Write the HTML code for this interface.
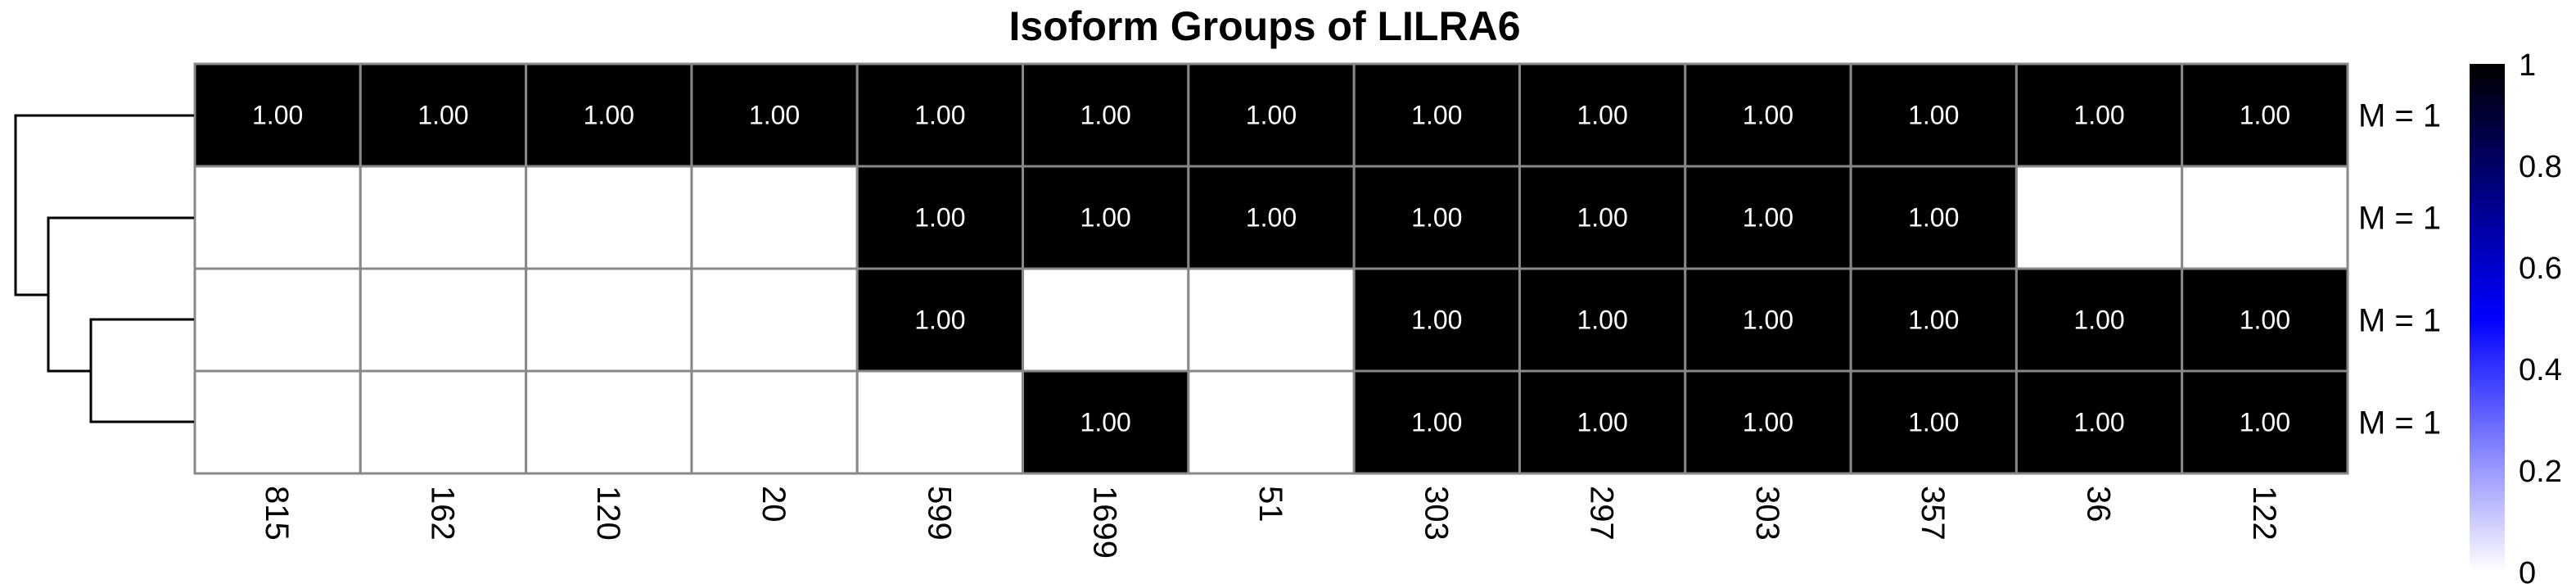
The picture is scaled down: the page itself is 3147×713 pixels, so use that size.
<!DOCTYPE html>
<html><head><meta charset="utf-8"><style>html,body{margin:0;padding:0;background:#fff}svg{display:block}</style></head>
<body>
<svg id="chart" width="3147" height="713" xmlns="http://www.w3.org/2000/svg" font-family="'Liberation Sans', Arial, sans-serif">
<defs><linearGradient id="cg" x1="0" y1="1" x2="0" y2="0"><stop offset="0" stop-color="#ffffff"/><stop offset="0.5" stop-color="#0000ff"/><stop offset="1" stop-color="#000000"/></linearGradient></defs>
<text x="1545" y="49" text-anchor="middle" font-size="50" font-weight="bold">Isoform Groups of LILRA6</text>
<g id="cells"></g>
<g id="dendro" stroke="#000" stroke-width="3" fill="none">
<path d="M237 141 H19 V360 H59"/>
<path d="M237 266 H59 V453 H111"/>
<path d="M237 390 H111 V515 H237"/>
</g>
<rect x="3017" y="78" width="43" height="620" fill="url(#cg)"/>
<g id="cbticks" font-size="38"></g>
</svg>
<script>
const columns = ["815","162","120","20","599","1699","51","303","297","303","357","36","122"];
const rowLabels = ["M = 1","M = 1","M = 1","M = 1"];
const row1 = [1,1,1,1,1,1,1,1,1,1,1,1,1];
const row2 = [0,0,0,0,1,1,1,1,1,1,1,0,0];
const row3 = [0,0,0,0,1,0,0,1,1,1,1,1,1];
const row4 = [0,0,0,0,0,1,0,1,1,1,1,1,1];
const colorTicks = [0,0.2,0.4,0.6,0.8,1];
const rows = [row1,row2,row3,row4];
const NS="http://www.w3.org/2000/svg";
const X0=238, X1=2868, Y0=78, Y1=578;
const cw=(X1-X0)/columns.length, rh=(Y1-Y0)/rows.length;
const xs=i=>X0+i*cw, ys=j=>Y0+j*rh;
function color(v){ // white->blue->black
  let r,g,b;
  if(v<=0.5){const t=v/0.5;r=255*(1-t);g=255*(1-t);b=255;}
  else{const t=(v-0.5)/0.5;r=0;g=0;b=255*(1-t);}
  return `rgb(${Math.round(r)},${Math.round(g)},${Math.round(b)})`;
}
const cells=document.getElementById('cells');
rows.forEach((row,j)=>{
  row.forEach((v,i)=>{
    const r=document.createElementNS(NS,'rect');
    
    
    r.setAttribute('x',xs(i));r.setAttribute('y',ys(j));
    r.setAttribute('width',cw);r.setAttribute('height',rh);
    r.setAttribute('fill',v>0?color(v):'#ffffff');
    r.setAttribute('stroke','#888');r.setAttribute('stroke-width','3');
    cells.appendChild(r);
    if(v>0){
      const t=document.createElementNS(NS,'text');
      
      
      t.setAttribute('x',xs(i)+cw/2);t.setAttribute('y',ys(j)+rh/2+11);
      t.setAttribute('text-anchor','middle');t.setAttribute('font-size','32');
      t.setAttribute('fill',v>0.3?'#fff':'#000');
      t.textContent=v.toFixed(2);
      cells.appendChild(t);
    }
  });
  const l=document.createElementNS(NS,'text');
  
  
  l.setAttribute('x',2881);l.setAttribute('y',ys(j)+rh/2+14);
  l.setAttribute('font-size','40');
  l.textContent=rowLabels[j];
  cells.appendChild(l);
});
columns.forEach((c,i)=>{
  const t=document.createElementNS(NS,'text');
  
  
  const cx=xs(i)+cw/2, y=593;
  t.setAttribute('transform',`translate(${cx-14},${y}) rotate(90)`);
  t.setAttribute('font-size','40');
  t.textContent=c;
  cells.appendChild(t);
});
const cb=document.getElementById('cbticks');
colorTicks.forEach(v=>{
  const t=document.createElementNS(NS,'text');
  
  
  t.setAttribute('x',3077);t.setAttribute('y',698-v*620+14);
  t.textContent=String(v);
  cb.appendChild(t);
});
</script>
</body></html>
